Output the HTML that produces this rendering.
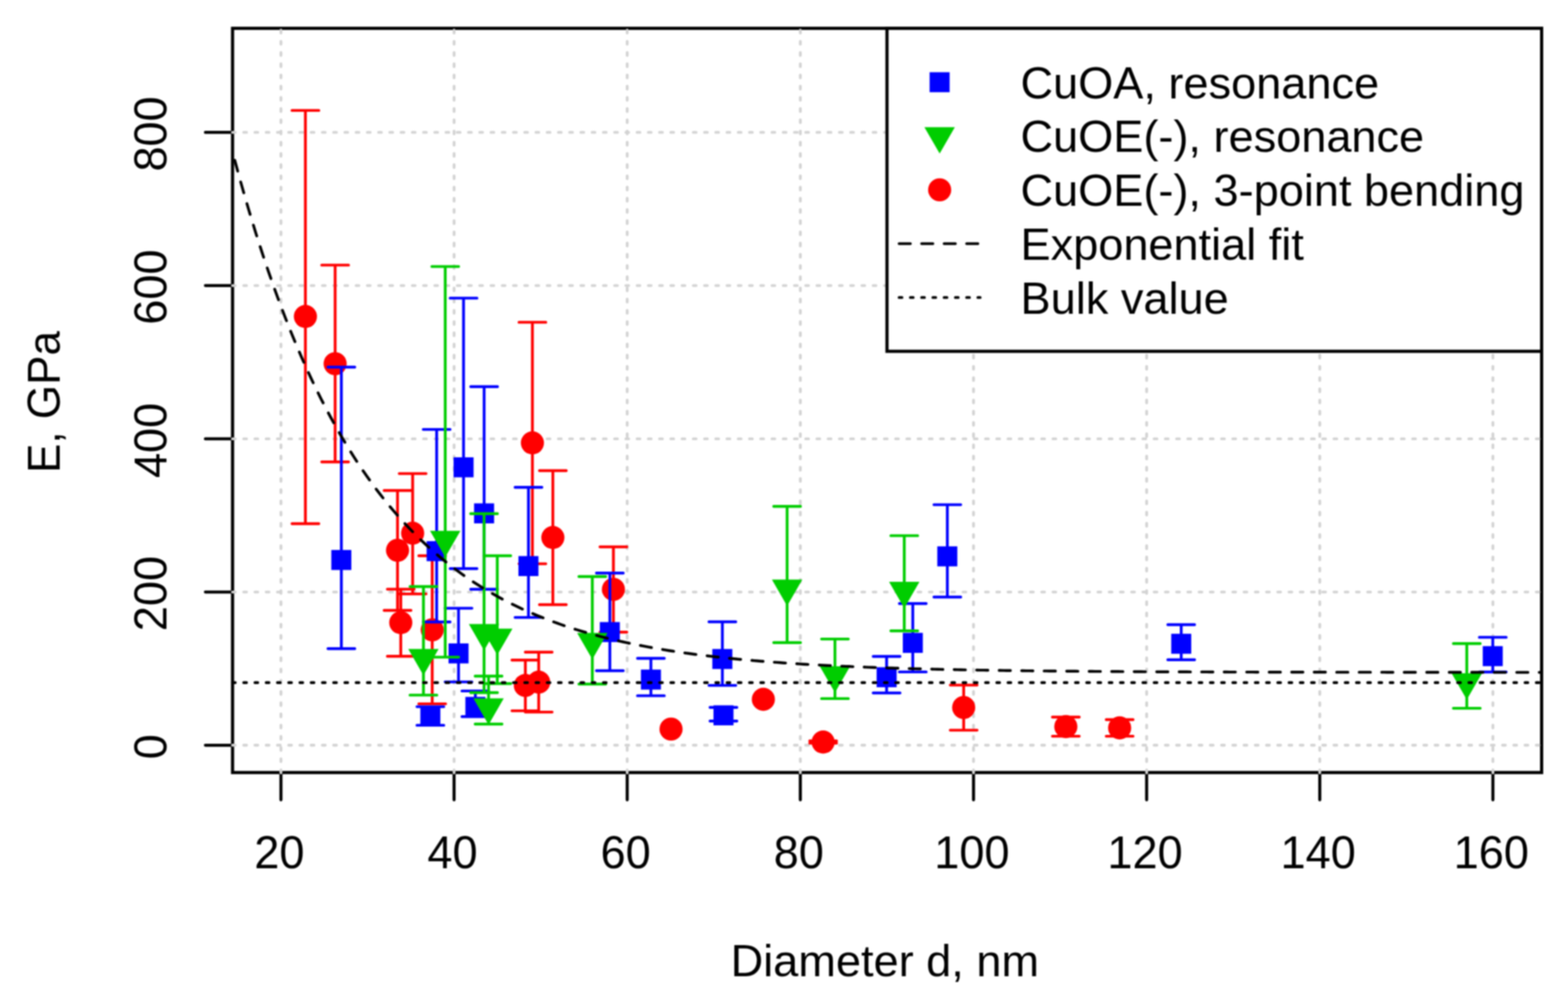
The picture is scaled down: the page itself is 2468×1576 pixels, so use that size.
<!DOCTYPE html>
<html><head><meta charset="utf-8"><title>E vs Diameter</title><style>
html,body{margin:0;padding:0;background:#fff;overflow:hidden;}
svg{display:block;filter:blur(0.9px);}
text{font-family:"Liberation Sans",Arial,Helvetica,sans-serif;fill:#000;}
</style></head><body>
<svg width="2468" height="1576" viewBox="0 0 2468 1576">
<rect x="0" y="0" width="2468" height="1576" fill="#fff"/>
<defs><clipPath id="pc"><rect x="363.4" y="41.9" width="2065.2" height="1177.3"/></clipPath></defs>
<rect x="366.05" y="44.6" width="2060.45" height="1171.70" fill="none" stroke="#000" stroke-width="5.0" stroke-linejoin="miter"/>
<path d="M442.2 1216.7V1259.3M714.7 1216.7V1259.3M987.2 1216.7V1259.3M1259.7 1216.7V1259.3M1532.3 1216.7V1259.3M1804.8 1216.7V1259.3M2077.3 1216.7V1259.3M2349.8 1216.7V1259.3M365.9 1173.3H323.3M365.9 932.1H323.3M365.9 690.9H323.3M365.9 449.6H323.3M365.9 208.4H323.3" stroke="#000" stroke-width="4.8" stroke-linecap="round" fill="none"/>
<g font-size="71">
<text transform="translate(439.7 1367.3) scale(1 1.02)" text-anchor="middle">20</text><text transform="translate(712.2 1367.3) scale(1 1.02)" text-anchor="middle">40</text><text transform="translate(984.7 1367.3) scale(1 1.02)" text-anchor="middle">60</text><text transform="translate(1257.2 1367.3) scale(1 1.02)" text-anchor="middle">80</text><text transform="translate(1529.8 1367.3) scale(1 1.02)" text-anchor="middle">100</text><text transform="translate(1802.3 1367.3) scale(1 1.02)" text-anchor="middle">120</text><text transform="translate(2074.8 1367.3) scale(1 1.02)" text-anchor="middle">140</text><text transform="translate(2347.3 1367.3) scale(1 1.02)" text-anchor="middle">160</text>
<text transform="translate(262.0 1175.8) rotate(-90) scale(1 1.02)" text-anchor="middle">0</text><text transform="translate(262.0 934.6) rotate(-90) scale(1 1.02)" text-anchor="middle">200</text><text transform="translate(262.0 693.4) rotate(-90) scale(1 1.02)" text-anchor="middle">400</text><text transform="translate(262.0 452.1) rotate(-90) scale(1 1.02)" text-anchor="middle">600</text><text transform="translate(262.0 210.9) rotate(-90) scale(1 1.02)" text-anchor="middle">800</text>
<text transform="translate(1392.7 1537.0)" text-anchor="middle">Diameter d, nm</text>
<text transform="translate(93.5 633.0) rotate(-90) scale(0.977 1.03)" text-anchor="middle">E, GPa</text>
</g>
<g stroke="#D3D3D3" stroke-width="4.4275" stroke-linecap="round" stroke-dasharray="4.428 13.283" fill="none">
<line x1="442.2" y1="1216.7" x2="442.2" y2="44.4" stroke-dasharray="4.412 13.236"/><line x1="714.7" y1="1216.7" x2="714.7" y2="44.4" stroke-dasharray="4.412 13.236"/><line x1="987.2" y1="1216.7" x2="987.2" y2="44.4" stroke-dasharray="4.412 13.236"/><line x1="1259.7" y1="1216.7" x2="1259.7" y2="44.4" stroke-dasharray="4.412 13.236"/><line x1="1532.3" y1="1216.7" x2="1532.3" y2="44.4" stroke-dasharray="4.412 13.236"/><line x1="1804.8" y1="1216.7" x2="1804.8" y2="44.4" stroke-dasharray="4.412 13.236"/><line x1="2077.3" y1="1216.7" x2="2077.3" y2="44.4" stroke-dasharray="4.412 13.236"/><line x1="2349.8" y1="1216.7" x2="2349.8" y2="44.4" stroke-dasharray="4.412 13.236"/><line x1="365.9" y1="1173.3" x2="2426.1" y2="1173.3" stroke-dasharray="4.423 13.268"/><line x1="365.9" y1="932.1" x2="2426.1" y2="932.1" stroke-dasharray="4.423 13.268"/><line x1="365.9" y1="690.9" x2="2426.1" y2="690.9" stroke-dasharray="4.423 13.268"/><line x1="365.9" y1="449.6" x2="2426.1" y2="449.6" stroke-dasharray="4.423 13.268"/><line x1="365.9" y1="208.4" x2="2426.1" y2="208.4" stroke-dasharray="4.423 13.268"/></g>
<g clip-path="url(#pc)">
<path d="M480.7 824.5V173.9M459.6 173.9H501.8M459.6 824.5H501.8M527.5 727.2V417.4M506.4 417.4H548.6M506.4 727.2H548.6M625.7 961.0V772.2M604.6 772.2H646.8M604.6 961.0H646.8M630.8 1033.3V927.6M609.7 927.6H651.9M609.7 1033.3H651.9M649.5 935.1V745.6M628.4 745.6H670.6M628.4 935.1H670.6M680.3 1108.1V875.0M659.2 875.0H701.4M659.2 1108.1H701.4M826.9 1119.1V1039.2M805.8 1039.2H848.0M805.8 1119.1H848.0M838.0 887.6V507.4M816.9 507.4H859.1M816.9 887.6H859.1M847.9 1121.1V1026.8M826.8 1026.8H869.0M826.8 1121.1H869.0M870.2 952.0V741.0M849.1 741.0H891.3M849.1 952.0H891.3M965.5 995.2V861.0M944.4 861.0H986.6M944.4 995.2H986.6M1295.6 1170.0V1166.5M1274.5 1166.5H1316.7M1274.5 1170.0H1316.7M1516.8 1149.6V1078.6M1495.7 1078.6H1537.9M1495.7 1149.6H1537.9M1677.6 1159.1V1129.0M1656.5 1129.0H1698.7M1656.5 1159.1H1698.7M1762.3 1159.1V1133.0M1741.2 1133.0H1783.4M1741.2 1159.1H1783.4" stroke="#FF0000" stroke-width="4.4275" stroke-linecap="round" stroke-linejoin="round" fill="none"/>
<g fill="#FF0000"><circle cx="480.7" cy="498.3" r="18.2"/><circle cx="527.5" cy="572.6" r="18.2"/><circle cx="625.7" cy="866.4" r="18.2"/><circle cx="630.8" cy="980.3" r="18.2"/><circle cx="649.5" cy="839.5" r="18.2"/><circle cx="680.3" cy="991.6" r="18.2"/><circle cx="826.9" cy="1079.2" r="18.2"/><circle cx="838.0" cy="697.3" r="18.2"/><circle cx="847.9" cy="1074.0" r="18.2"/><circle cx="870.2" cy="846.3" r="18.2"/><circle cx="965.5" cy="927.9" r="18.2"/><circle cx="1056.2" cy="1147.9" r="18.2"/><circle cx="1201.5" cy="1101.0" r="18.2"/><circle cx="1295.6" cy="1168.3" r="18.2"/><circle cx="1516.8" cy="1113.9" r="18.2"/><circle cx="1677.6" cy="1144.0" r="18.2"/><circle cx="1762.3" cy="1146.0" r="18.2"/></g>
<path d="M537.3 1021.3V578.0M516.2 578.0H558.4M516.2 1021.3H558.4M677.4 1141.9V1112.6M656.3 1112.6H698.5M656.3 1141.9H698.5M687.3 979.3V676.1M666.2 676.1H708.4M666.2 979.3H708.4M721.7 1073.6V957.6M700.6 957.6H742.8M700.6 1073.6H742.8M729.6 895.2V469.4M708.5 469.4H750.7M708.5 895.2H750.7M748.2 1128.2V1087.9M727.1 1087.9H769.3M727.1 1128.2H769.3M762.0 927.8V608.8M740.9 608.8H783.1M740.9 927.8H783.1M831.8 972.1V767.3M810.7 767.3H852.9M810.7 972.1H852.9M959.9 1056.0V902.3M938.8 902.3H981.0M938.8 1056.0H981.0M1024.5 1095.4V1036.5M1003.4 1036.5H1045.6M1003.4 1095.4H1045.6M1137.0 1079.1V979.0M1115.9 979.0H1158.1M1115.9 1079.1H1158.1M1138.7 1135.3V1113.8M1117.6 1113.8H1159.8M1117.6 1135.3H1159.8M1395.5 1091.0V1033.5M1374.4 1033.5H1416.6M1374.4 1091.0H1416.6M1436.7 1057.9V950.2M1415.6 950.2H1457.8M1415.6 1057.9H1457.8M1491.1 940.0V794.6M1470.0 794.6H1512.2M1470.0 940.0H1512.2M1859.2 1038.7V983.5M1838.1 983.5H1880.3M1838.1 1038.7H1880.3M2349.6 1058.0V1003.4M2328.5 1003.4H2370.7M2328.5 1058.0H2370.7" stroke="#0000FF" stroke-width="4.4275" stroke-linecap="round" stroke-linejoin="round" fill="none"/>
<g fill="#0000FF"><rect x="521.5" y="865.9" width="31.5" height="31.5"/><rect x="661.6" y="1112.2" width="31.5" height="31.5"/><rect x="671.5" y="852.0" width="31.5" height="31.5"/><rect x="706.0" y="1013.0" width="31.5" height="31.5"/><rect x="713.9" y="720.0" width="31.5" height="31.5"/><rect x="732.5" y="1097.2" width="31.5" height="31.5"/><rect x="746.2" y="792.5" width="31.5" height="31.5"/><rect x="816.0" y="875.5" width="31.5" height="31.5"/><rect x="944.1" y="979.4" width="31.5" height="31.5"/><rect x="1008.8" y="1054.2" width="31.5" height="31.5"/><rect x="1121.2" y="1021.8" width="31.5" height="31.5"/><rect x="1123.0" y="1110.5" width="31.5" height="31.5"/><rect x="1379.8" y="1050.5" width="31.5" height="31.5"/><rect x="1421.0" y="996.4" width="31.5" height="31.5"/><rect x="1475.3" y="860.2" width="31.5" height="31.5"/><rect x="1843.5" y="997.8" width="31.5" height="31.5"/><rect x="2333.8" y="1017.3" width="31.5" height="31.5"/></g>
<path d="M666.5 1094.4V923.5M645.4 923.5H687.6M645.4 1094.4H687.6M700.8 1034.6V419.6M679.7 419.6H721.9M679.7 1034.6H721.9M761.9 1090.5V808.8M740.8 808.8H783.0M740.8 1090.5H783.0M769.0 1140.0V1064.5M747.9 1064.5H790.1M747.9 1140.0H790.1M782.7 1076.2V875.0M761.6 875.0H803.8M761.6 1076.2H803.8M932.3 1077.0V907.8M911.2 907.8H953.4M911.2 1077.0H953.4M1238.9 1011.7V797.2M1217.8 797.2H1260.0M1217.8 1011.7H1260.0M1314.2 1099.9V1006.1M1293.1 1006.1H1335.3M1293.1 1099.9H1335.3M1423.3 993.3V843.4M1402.2 843.4H1444.4M1402.2 993.3H1444.4M2308.7 1115.1V1013.2M2287.6 1013.2H2329.8M2287.6 1115.1H2329.8" stroke="#00CD00" stroke-width="4.4275" stroke-linecap="round" stroke-linejoin="round" fill="none"/>
<path fill="#00CD00" d="M666.5 1063.2L690.4 1021.7L642.6 1021.7ZM700.8 877.3L724.7 835.8L676.9 835.8ZM761.9 1024.1L785.8 982.6L738.0 982.6ZM769.0 1141.1L792.9 1099.6L745.1 1099.6ZM782.7 1031.3L806.6 989.8L758.8 989.8ZM932.3 1038.0L956.2 996.5L908.4 996.5ZM1238.9 954.1L1262.8 912.6L1215.0 912.6ZM1314.2 1090.5L1338.1 1049.0L1290.3 1049.0ZM1423.3 957.4L1447.2 915.9L1399.4 915.9ZM2308.7 1101.5L2332.6 1060.0L2284.8 1060.0Z"/>
<polyline points="365.9,238.9 371.1,258.2 376.2,277.1 381.4,295.5 386.6,313.5 391.7,331.0 396.9,348.1 402.0,364.9 407.2,381.2 412.4,397.2 417.5,412.7 422.7,428.0 427.9,442.8 433.0,457.3 438.2,471.5 443.4,485.3 448.5,498.8 453.7,512.0 458.8,524.8 464.0,537.4 469.2,549.7 474.3,561.7 479.5,573.4 484.7,584.8 489.8,596.0 495.0,606.9 500.1,617.5 505.3,627.9 510.5,638.0 515.6,647.9 520.8,657.6 526.0,667.0 531.1,676.3 536.3,685.3 541.5,694.1 546.6,702.6 551.8,711.0 556.9,719.2 562.1,727.2 567.3,735.0 572.4,742.6 577.6,750.1 582.8,757.3 587.9,764.4 593.1,771.4 598.3,778.1 603.4,784.7 608.6,791.2 613.7,797.5 618.9,803.6 624.1,809.6 629.2,815.5 634.4,821.2 639.6,826.8 644.7,832.3 649.9,837.6 655.1,842.8 660.2,847.9 665.4,852.9 670.5,857.7 675.7,862.4 680.9,867.1 686.0,871.6 691.2,876.0 696.4,880.3 701.5,884.5 706.7,888.6 711.8,892.6 717.0,896.5 722.2,900.3 727.3,904.0 732.5,907.7 737.7,911.2 742.8,914.7 748.0,918.1 753.2,921.4 758.3,924.6 763.5,927.8 768.6,930.9 773.8,933.9 779.0,936.8 784.1,939.7 789.3,942.5 794.5,945.2 799.6,947.9 804.8,950.5 810.0,953.0 815.1,955.5 820.3,958.0 825.4,960.3 830.6,962.6 835.8,964.9 840.9,967.1 846.1,969.3 851.3,971.4 856.4,973.4 861.6,975.4 866.8,977.4 871.9,979.3 877.1,981.2 882.2,983.0 887.4,984.8 892.6,986.5 897.7,988.2 902.9,989.9 908.1,991.5 913.2,993.1 918.4,994.6 923.5,996.1 928.7,997.6 933.9,999.0 939.0,1000.4 944.2,1001.8 949.4,1003.1 954.5,1004.5 959.7,1005.7 964.9,1007.0 970.0,1008.2 975.2,1009.4 980.3,1010.5 985.5,1011.7 990.7,1012.8 995.8,1013.9 1001.0,1014.9 1006.2,1015.9 1011.3,1016.9 1016.5,1017.9 1021.7,1018.9 1026.8,1019.8 1032.0,1020.7 1037.1,1021.6 1042.3,1022.5 1047.5,1023.4 1052.6,1024.2 1057.8,1025.0 1063.0,1025.8 1068.1,1026.6 1073.3,1027.3 1078.5,1028.1 1083.6,1028.8 1088.8,1029.5 1093.9,1030.2 1099.1,1030.8 1104.3,1031.5 1109.4,1032.1 1114.6,1032.8 1119.8,1033.4 1124.9,1034.0 1130.1,1034.5 1135.2,1035.1 1140.4,1035.7 1145.6,1036.2 1150.7,1036.7 1155.9,1037.2 1161.1,1037.8 1166.2,1038.2 1171.4,1038.7 1176.6,1039.2 1181.7,1039.6 1186.9,1040.1 1192.0,1040.5 1197.2,1041.0 1202.4,1041.4 1207.5,1041.8 1212.7,1042.2 1217.9,1042.6 1223.0,1042.9 1228.2,1043.3 1233.4,1043.7 1238.5,1044.0 1243.7,1044.4 1248.8,1044.7 1254.0,1045.0 1259.2,1045.4 1264.3,1045.7 1269.5,1046.0 1274.7,1046.3 1279.8,1046.6 1285.0,1046.8 1290.2,1047.1 1295.3,1047.4 1300.5,1047.7 1305.6,1047.9 1310.8,1048.2 1316.0,1048.4 1321.1,1048.7 1326.3,1048.9 1331.5,1049.1 1336.6,1049.3 1341.8,1049.6 1346.9,1049.8 1352.1,1050.0 1357.3,1050.2 1362.4,1050.4 1367.6,1050.6 1372.8,1050.8 1377.9,1051.0 1383.1,1051.1 1388.3,1051.3 1393.4,1051.5 1398.6,1051.7 1403.7,1051.8 1408.9,1052.0 1414.1,1052.1 1419.2,1052.3 1424.4,1052.4 1429.6,1052.6 1434.7,1052.7 1439.9,1052.9 1445.1,1053.0 1450.2,1053.1 1455.4,1053.3 1460.5,1053.4 1465.7,1053.5 1470.9,1053.6 1476.0,1053.8 1481.2,1053.9 1486.4,1054.0 1491.5,1054.1 1496.7,1054.2 1501.8,1054.3 1507.0,1054.4 1512.2,1054.5 1517.3,1054.6 1522.5,1054.7 1527.7,1054.8 1532.8,1054.9 1538.0,1055.0 1543.2,1055.1 1548.3,1055.1 1553.5,1055.2 1558.6,1055.3 1563.8,1055.4 1569.0,1055.5 1574.1,1055.5 1579.3,1055.6 1584.5,1055.7 1589.6,1055.7 1594.8,1055.8 1600.0,1055.9 1605.1,1055.9 1610.3,1056.0 1615.4,1056.1 1620.6,1056.1 1625.8,1056.2 1630.9,1056.3 1636.1,1056.3 1641.3,1056.4 1646.4,1056.4 1651.6,1056.5 1656.8,1056.5 1661.9,1056.6 1667.1,1056.6 1672.2,1056.7 1677.4,1056.7 1682.6,1056.8 1687.7,1056.8 1692.9,1056.8 1698.1,1056.9 1703.2,1056.9 1708.4,1057.0 1713.5,1057.0 1718.7,1057.0 1723.9,1057.1 1729.0,1057.1 1734.2,1057.2 1739.4,1057.2 1744.5,1057.2 1749.7,1057.3 1754.9,1057.3 1760.0,1057.3 1765.2,1057.4 1770.3,1057.4 1775.5,1057.4 1780.7,1057.4 1785.8,1057.5 1791.0,1057.5 1796.2,1057.5 1801.3,1057.6 1806.5,1057.6 1811.7,1057.6 1816.8,1057.6 1822.0,1057.7 1827.1,1057.7 1832.3,1057.7 1837.5,1057.7 1842.6,1057.7 1847.8,1057.8 1853.0,1057.8 1858.1,1057.8 1863.3,1057.8 1868.5,1057.8 1873.6,1057.9 1878.8,1057.9 1883.9,1057.9 1889.1,1057.9 1894.3,1057.9 1899.4,1057.9 1904.6,1058.0 1909.8,1058.0 1914.9,1058.0 1920.1,1058.0 1925.2,1058.0 1930.4,1058.0 1935.6,1058.1 1940.7,1058.1 1945.9,1058.1 1951.1,1058.1 1956.2,1058.1 1961.4,1058.1 1966.6,1058.1 1971.7,1058.1 1976.9,1058.2 1982.0,1058.2 1987.2,1058.2 1992.4,1058.2 1997.5,1058.2 2002.7,1058.2 2007.9,1058.2 2013.0,1058.2 2018.2,1058.2 2023.4,1058.2 2028.5,1058.3 2033.7,1058.3 2038.8,1058.3 2044.0,1058.3 2049.2,1058.3 2054.3,1058.3 2059.5,1058.3 2064.7,1058.3 2069.8,1058.3 2075.0,1058.3 2080.2,1058.3 2085.3,1058.3 2090.5,1058.4 2095.6,1058.4 2100.8,1058.4 2106.0,1058.4 2111.1,1058.4 2116.3,1058.4 2121.5,1058.4 2126.6,1058.4 2131.8,1058.4 2136.9,1058.4 2142.1,1058.4 2147.3,1058.4 2152.4,1058.4 2157.6,1058.4 2162.8,1058.4 2167.9,1058.4 2173.1,1058.4 2178.3,1058.4 2183.4,1058.5 2188.6,1058.5 2193.7,1058.5 2198.9,1058.5 2204.1,1058.5 2209.2,1058.5 2214.4,1058.5 2219.6,1058.5 2224.7,1058.5 2229.9,1058.5 2235.1,1058.5 2240.2,1058.5 2245.4,1058.5 2250.5,1058.5 2255.7,1058.5 2260.9,1058.5 2266.0,1058.5 2271.2,1058.5 2276.4,1058.5 2281.5,1058.5 2286.7,1058.5 2291.9,1058.5 2297.0,1058.5 2302.2,1058.5 2307.3,1058.5 2312.5,1058.5 2317.7,1058.5 2322.8,1058.5 2328.0,1058.5 2333.2,1058.5 2338.3,1058.5 2343.5,1058.6 2348.6,1058.6 2353.8,1058.6 2359.0,1058.6 2364.1,1058.6 2369.3,1058.6 2374.5,1058.6 2379.6,1058.6 2384.8,1058.6 2390.0,1058.6 2395.1,1058.6 2400.3,1058.6 2405.4,1058.6 2410.6,1058.6 2415.8,1058.6 2420.9,1058.6 2426.1,1058.6" fill="none" stroke="#000" stroke-width="4.4275" stroke-dasharray="17.710 17.710" stroke-dashoffset="21.51" stroke-linecap="round" stroke-linejoin="round"/>
<line x1="365.9" y1="1074.7" x2="2426.1" y2="1074.7" stroke="#000" stroke-width="4.4275" stroke-dasharray="4.423 13.268" stroke-linecap="round"/>
</g>
<rect x="1396.1" y="44.6" width="1030.40" height="508.50" fill="#fff" stroke="#000" stroke-width="5.0" stroke-linejoin="miter"/>
<rect x="1463.2" y="113.7" width="31.5" height="31.5" fill="#0000FF"/>
<path d="M1479.0 241.8L1502.9 200.3L1455.0 200.3Z" fill="#00CD00"/>
<circle cx="1479.0" cy="298.9" r="18.2" fill="#FF0000"/>
<line x1="1415.2" y1="383.6" x2="1542.7" y2="383.6" stroke="#000" stroke-width="4.4275" stroke-dasharray="17.710 17.710" stroke-linecap="round"/>
<line x1="1415.2" y1="468.4" x2="1542.7" y2="468.4" stroke="#000" stroke-width="4.4275" stroke-dasharray="4.428 13.283" stroke-linecap="round"/>
<g font-size="71">
<text transform="translate(1606.3 154.6)" text-anchor="start">CuOA, resonance</text>
<text transform="translate(1606.3 239.3)" text-anchor="start">CuOE(-), resonance</text>
<text transform="translate(1606.3 324.1)" text-anchor="start">CuOE(-), 3-point bending</text>
<text transform="translate(1606.3 408.8)" text-anchor="start">Exponential fit</text>
<text transform="translate(1606.3 493.6)" text-anchor="start">Bulk value</text>
</g>
</svg>
</body></html>
